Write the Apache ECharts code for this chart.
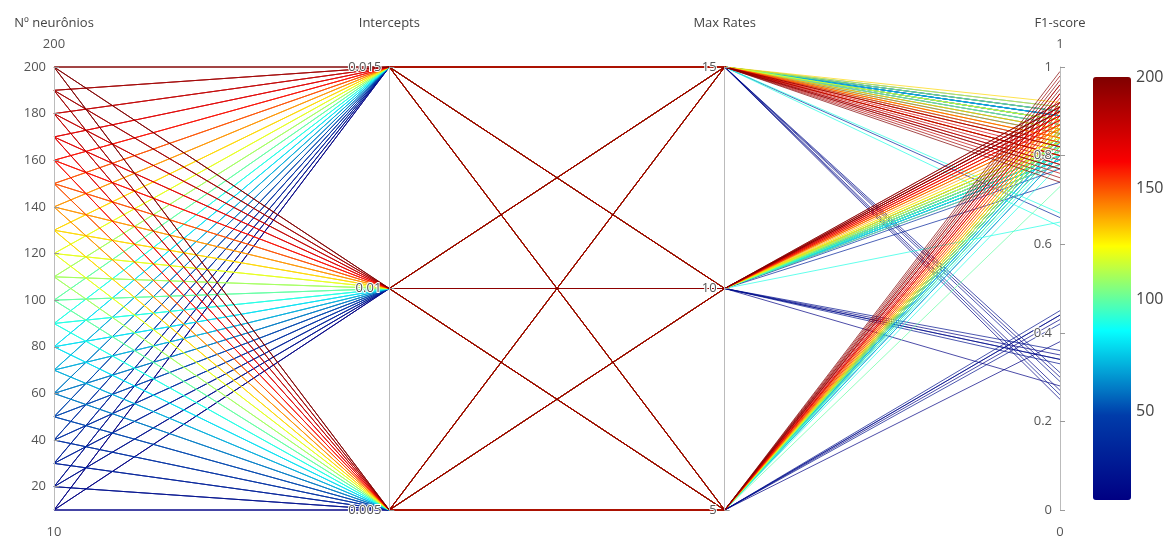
<!DOCTYPE html>
<html><head><meta charset="utf-8">
<script src="https://cdn.jsdelivr.net/npm/echarts@6/dist/echarts.min.js"></script>
<style>html,body{margin:0;padding:0;background:#fff}#c{width:1167px;height:537px}</style>
</head><body><div id="c"></div>
<script>
const neurons = [10,20,30,40,50,60,70,80,90,100,110,120,130,140,150,160,170,180,190,200];
const intercepts = [0.005, 0.01, 0.015];
const maxRates = [5, 10, 15];
const axisNames = ['Nº neurônios', 'Intercepts', 'Max Rates', 'F1-score'];
const neuronTicks = [20,40,60,80,100,120,140,160,180,200];
const interceptTicks = [0.005, 0.01, 0.015];
const colorbarTicks = [50, 100, 150, 200];
// F1-score per neuron count; order: intercept 0.005 (rates 5,10,15), 0.01 (5,10,15), 0.015 (5,10,15)
const f1 = [
  [0.44,0.35,0.30, 0.43,0.34,0.27, 0.38,0.28,0.25],
  [0.45,0.36,0.31, 0.44,0.34,0.29, 0.42,0.33,0.26],
  [0.84,0.80,0.66, 0.82,0.74,0.88, 0.80,0.78,0.89],
  [0.85,0.81,0.89, 0.84,0.79,0.90, 0.83,0.77,0.88],
  [0.86,0.82,0.90, 0.85,0.80,0.89, 0.84,0.79,0.87],
  [0.86,0.83,0.91, 0.85,0.81,0.88, 0.84,0.80,0.89],
  [0.85,0.83,0.90, 0.84,0.81,0.87, 0.83,0.80,0.88],
  [0.84,0.82,0.89, 0.83,0.80,0.86, 0.80,0.79,0.83],
  [0.78,0.65,0.67, 0.82,0.80,0.85, 0.81,0.79,0.64],
  [0.73,0.81,0.88, 0.84,0.80,0.85, 0.82,0.78,0.86],
  [0.86,0.83,0.90, 0.85,0.82,0.87, 0.84,0.81,0.88],
  [0.87,0.84,0.91, 0.86,0.83,0.88, 0.85,0.82,0.86],
  [0.88,0.86,0.92, 0.87,0.84,0.80, 0.86,0.83,0.84],
  [0.90,0.87,0.86, 0.89,0.86,0.84, 0.87,0.85,0.83],
  [0.91,0.88,0.85, 0.90,0.87,0.82, 0.88,0.86,0.84],
  [0.92,0.89,0.83, 0.91,0.88,0.80, 0.89,0.87,0.82],
  [0.94,0.90,0.81, 0.93,0.89,0.78, 0.91,0.88,0.80],
  [0.96,0.91,0.79, 0.94,0.90,0.77, 0.92,0.89,0.76],
  [0.98,0.92,0.80, 0.96,0.91,0.75, 0.94,0.90,0.78],
  [0.99,0.92,0.82, 0.97,0.91,0.74, 0.95,0.90,0.77]
];
const jet = ['rgb(0,0,131)','rgb(0,60,170)','rgb(5,255,255)','rgb(255,255,0)','rgb(250,0,0)','rgb(128,0,0)'];

const rows = [];
neurons.forEach((n, ni) => {
  intercepts.forEach((ic, ii) => {
    maxRates.forEach((mr, ri) => {
      rows.push([n, ic, mr, f1[ni][ii * 3 + ri]]);
    });
  });
});

const L = 54, R = 107, T = 67, B = 27, W = 1167, H = 537;
const axW = W - L - R;
const axX = i => L + i * axW / 3;
const font = '"Open Sans", "DejaVu Sans", sans-serif';
const txtColor = '#555';

const chart = echarts.init(document.getElementById('c'));
const cbTop = 77, cbH = 423, cbLeft = 1093, cbW = 38;
const graphics = [
  {type:'text', x: axX(0), y: T - 23, style:{text:'200', fill:txtColor, font:'13px ' + font, align:'center', verticalAlign:'middle'}},
  {type:'text', x: axX(0), y: H - B + 22, style:{text:'10', fill:txtColor, font:'13px ' + font, align:'center', verticalAlign:'middle'}},
  {type:'text', x: axX(3), y: T - 23, style:{text:'1', fill:txtColor, font:'13px ' + font, align:'center', verticalAlign:'middle'}},
  {type:'text', x: axX(3), y: H - B + 22, style:{text:'0', fill:txtColor, font:'13px ' + font, align:'center', verticalAlign:'middle'}}
];
colorbarTicks.forEach(v => {
  graphics.push({type:'text', x: cbLeft + cbW + 5, y: cbTop + cbH * (200 - v) / 190,
    style:{text:String(v), fill:'#444', font:'16px ' + font, align:'left', verticalAlign:'middle'}});
});

const axisCommon = {
  nameLocation: 'end', nameGap: 37,
  nameTextStyle: {color: '#444', fontSize: 13, fontFamily: font},
  axisLine: {lineStyle: {color: '#bbb', width: 1}},
  axisTick: {show: true, inside: true, length: 5, lineStyle: {color: '#999'}},
  axisLabel: {margin: -8, align: 'right', color: txtColor, fontSize: 13, fontFamily: font, textBorderColor: '#fff', textBorderWidth: 2},
  splitLine: {show: false}
};

chart.setOption({
  animation: false,
  backgroundColor: '#fff',
  parallel: {left: L, right: R, top: T, bottom: B, layout: 'horizontal'},
  parallelAxis: [
    Object.assign({}, axisCommon, {dim: 0, name: axisNames[0], type: 'value', min: 10, max: 200,
      axisLabel: Object.assign({}, axisCommon.axisLabel, {customValues: neuronTicks}),
      axisTick: Object.assign({}, axisCommon.axisTick, {customValues: neuronTicks})}),
    Object.assign({}, axisCommon, {dim: 1, name: axisNames[1], type: 'value', min: 0.005, max: 0.015,
      axisLabel: Object.assign({}, axisCommon.axisLabel, {customValues: interceptTicks, formatter: v => String(+v.toFixed(3))}),
      axisTick: Object.assign({}, axisCommon.axisTick, {customValues: interceptTicks})}),
    Object.assign({}, axisCommon, {dim: 2, name: axisNames[2], type: 'value', min: 5, max: 15, interval: 5}),
    Object.assign({}, axisCommon, {dim: 3, name: axisNames[3], type: 'value', min: 0, max: 1, interval: 0.2,
      axisLabel: Object.assign({}, axisCommon.axisLabel, {formatter: v => String(+v.toFixed(1))})})
  ],
  visualMap: {
    type: 'continuous', dimension: 0, min: 10, max: 200,
    left: cbLeft, top: cbTop, itemWidth: cbW, itemHeight: cbH,
    padding: 0, calculable: false, text: null, showLabel: false,
    inRange: {color: jet},
    textStyle: {color: 'transparent'}
  },
  graphic: graphics,
  series: [{
    type: 'parallel',
    lineStyle: {width: 1, opacity: 0.7},
    emphasis: {disabled: true},
    data: rows
  }]
});
</script></body></html>
